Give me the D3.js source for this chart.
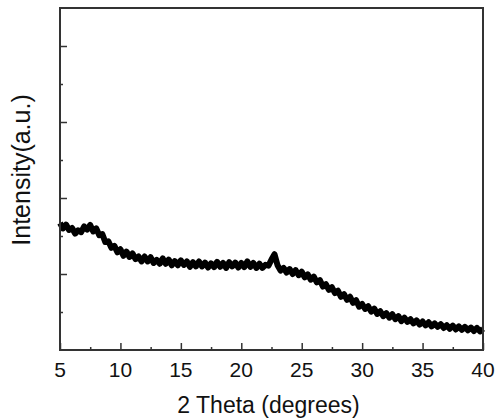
<!DOCTYPE html>
<html>
<head>
<meta charset="utf-8">
<script src="https://cdn.jsdelivr.net/npm/d3@7"></script>
<style>
  body { margin: 0; background: #fff; }
  text { font-family: Arial, "Liberation Sans", sans-serif; fill: #111; }
</style>
</head>
<body>
<div id="container"></div>
<script>
/* DATA */
// 2 theta start / step, intensity (arbitrary units)
const thetaStart = 5, thetaStep = 0.25;
const intensity = [
  334,320,330,316,321,306,315,310,325,317,329,312,320,302,305,284,286,269,274,257,
  265,248,259,245,254,239,246,233,246,233,244,229,237,227,241,227,238,223,234,223,
  236,224,233,219,231,220,233,220,230,217,228,218,232,219,229,216,231,220,230,217,
  229,218,233,219,229,216,227,216,224,222,238,252,223,209,216,204,213,200,210,197,
  206,191,199,185,193,178,184,167,173,158,165,150,156,140,147,132,140,124,131,114,
  121,108,115,101,109,95,102,89,97,85,94,81,89,76,85,74,81,70,78,67,
  75,65,73,62,70,61,68,58,65,56,64,54,62,53,61,52,59,50,58,49,
  56
];
const xTicks = [5, 10, 15, 20, 25, 30, 35, 40];
const xMinor = [7.5, 12.5, 17.5, 22.5, 27.5, 32.5, 37.5];
const yMajor = [200, 400, 600, 800];
const yMinor = [100, 300, 500, 700];

const data = intensity.map((v, i) => ({ x: thetaStart + i * thetaStep, y: v }));

/* CONSTANTS */
const width = 497, height = 420;
const mLeft = 60, mRight = 483, mTop = 8, mBottom = 350;

const svg = d3.select("#container").append("svg")
  .attr("width", width)
  .attr("height", height);

/* SCALES */
const xScale = d3.scaleLinear().domain([5, 40]).range([mLeft, mRight]);
const yScale = d3.scaleLinear().domain([0, 900]).range([mBottom, mTop]);

// the xrd trace, thick zigzag to look like the noisy band
const line = d3.line().x(d => xScale(d.x)).y(d => yScale(d.y));
svg.append("path")
  .datum(data)
  .attr("d", line)
  .attr("fill", "none")
  .attr("stroke", "#000")
  .attr("stroke-width", 6)
  .attr("stroke-linejoin", "round");

/* AXES */
// bottom axis: major + minor ticks pointing inward
svg.append("g")
  .attr("transform", `translate(0,${mBottom})`)
  .call(d3.axisTop(xScale).tickValues(xTicks).tickSize(7).tickFormat(""))
  .call(g => g.select(".domain").remove());
svg.append("g")
  .attr("transform", `translate(0,${mBottom})`)
  .call(d3.axisTop(xScale).tickValues(xMinor).tickSize(3).tickFormat(""))
  .call(g => g.select(".domain").remove());
svg.selectAll("text.xlab")
  .data(xTicks)
  .join("text")
  .attr("class", "xlab")
  .attr("x", d => xScale(d))
  .attr("y", 377)
  .attr("text-anchor", "middle")
  .style("font-size", "21px")
  .text(d => d);

// left axis, no labels
svg.append("g")
  .attr("transform", `translate(${mLeft},0)`)
  .call(d3.axisRight(yScale).tickValues(yMajor).tickSize(7).tickFormat(""))
  .call(g => g.select(".domain").remove());
svg.append("g")
  .attr("transform", `translate(${mLeft},0)`)
  .call(d3.axisRight(yScale).tickValues(yMinor).tickSize(3).tickFormat(""))
  .call(g => g.select(".domain").remove());
svg.selectAll(".tick line").attr("stroke", "#333").attr("stroke-width", 1.5);

// frame
svg.append("rect")
  .attr("x", mLeft).attr("y", mTop)
  .attr("width", mRight - mLeft).attr("height", mBottom - mTop)
  .attr("fill", "none")
  .attr("stroke", "#333")
  .attr("stroke-width", 2);

/* TITLES */
svg.append("text")
  .attr("x", (mLeft + mRight) / 2 - 3)
  .attr("y", 413)
  .attr("text-anchor", "middle")
  .style("font-size", "23px")
  .text("2 Theta (degrees)");

svg.append("text")
  .attr("transform", `translate(30,170) rotate(-90)`)
  .attr("text-anchor", "middle")
  .style("font-size", "25px")
  .text("Intensity(a.u.)");
</script>
</body>
</html>
